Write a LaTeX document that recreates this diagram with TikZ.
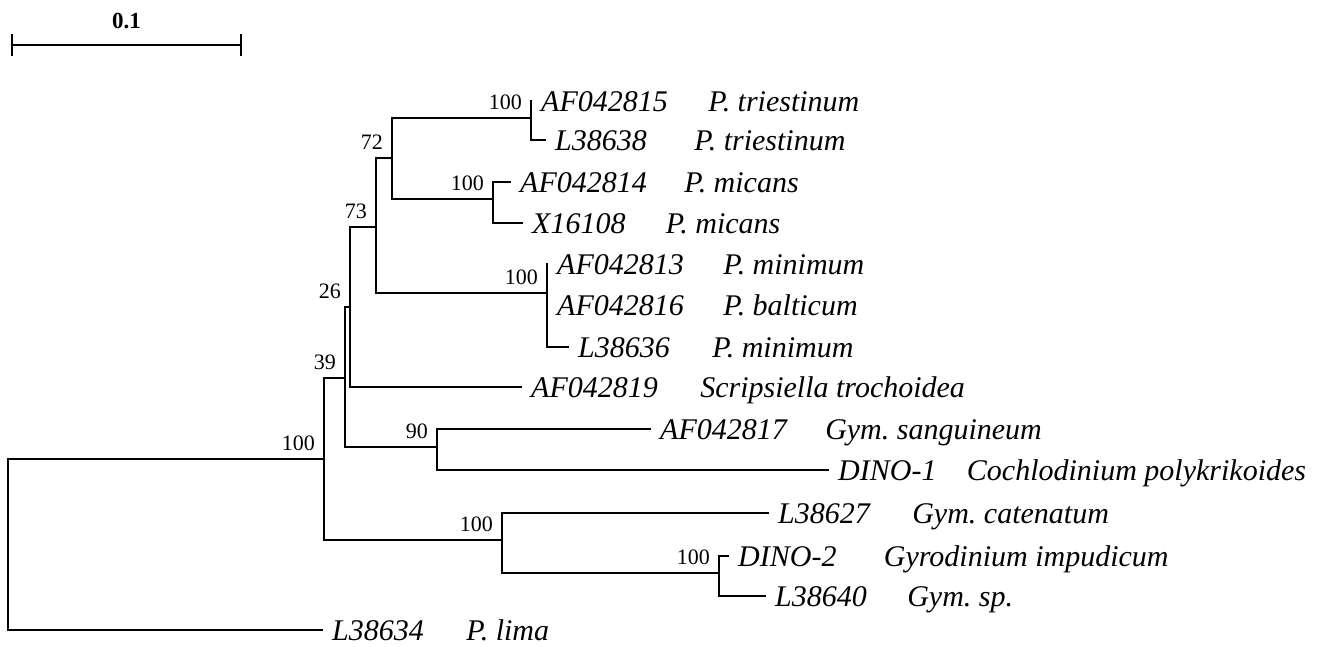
\documentclass[tikz,border=0pt]{standalone}
\usepackage{fontspec}
\setmainfont{Liberation Serif}
\usepackage{tikz}
\usetikzlibrary{positioning}

\begin{document}
\begin{tikzpicture}[
          x=1pt, y=-1pt,
          branch/.style={line width=1.8pt, line cap=rect},
          acc/.style={anchor=base west, inner sep=0pt, xshift=10pt, yshift=-10pt,
            font=\fontsize{30}{36}\selectfont\itshape},
          spname/.style={inner sep=0pt, font=\fontsize{30}{36}\selectfont\itshape\frenchspacing},
          boot/.style={anchor=south east, inner sep=0pt, xshift=-9pt, yshift=8pt,
            font=\fontsize{22}{26}\selectfont}
        ]
          \useasboundingbox (0,0) rectangle (1337,646);

          % scale bar
          \coordinate (sb1) at (12,45);
          \coordinate (sb2) at (241,45);
          \draw[branch] (sb1) -- node[above=15pt, inner sep=0pt, font=\fontsize{23}{27}\selectfont\bfseries] (sblab) {0.1} (sb2);
          \draw[branch] ([yshift=10pt]sb1) -- ([yshift=-10pt]sb1);
          \draw[branch] ([yshift=10pt]sb2) -- ([yshift=-10pt]sb2);

          % internal nodes
          \coordinate (root) at (8,545);
          \coordinate (nA) at (324,459);
          \coordinate (n39) at (345,378);
          \coordinate (n26) at (350,307);
          \coordinate (n73) at (376,227);
          \coordinate (n72) at (392,158);
          \coordinate (ntri) at (531,118);
          \coordinate (nmic) at (493,199);
          \coordinate (nmin) at (547,293);
          \coordinate (n90) at (437,447);
          \coordinate (nG) at (502,540);
          \coordinate (nH) at (719,573);

          % leaves
          \coordinate (t1) at (531,101);
          \coordinate (t2) at (545,140);
          \coordinate (t3) at (510,182);
          \coordinate (t4) at (522,223);
          \coordinate (t5) at (547,264);
          \coordinate (t6) at (547,305);
          \coordinate (t7) at (568,347);
          \coordinate (t8) at (521,387);
          \coordinate (t9) at (650,429);
          \coordinate (t10) at (828,470);
          \coordinate (t11) at (768,513);
          \coordinate (t12) at (728,556);
          \coordinate (t13) at (765,596);
          \coordinate (t14) at (322,630);

          % branches
          \draw[branch] (root) |- (nA);
          \draw[branch] (root) |- (t14);
          \draw[branch] (nA) |- (n39);
          \draw[branch] (nA) |- (nG);
          \draw[branch] (n39) |- (n26);
          \draw[branch] (n39) |- (n90);
          \draw[branch] (n26) |- (n73);
          \draw[branch] (n26) |- (t8);
          \draw[branch] (n73) |- (n72);
          \draw[branch] (n73) |- (nmin);
          \draw[branch] (n72) |- (ntri);
          \draw[branch] (n72) |- (nmic);
          \draw[branch] (ntri) |- (t1);
          \draw[branch] (ntri) |- (t2);
          \draw[branch] (nmic) |- (t3);
          \draw[branch] (nmic) |- (t4);
          \draw[branch] (nmin) |- (t5);
          \draw[branch] (nmin) |- (t6);
          \draw[branch] (nmin) |- (t7);
          \draw[branch] (n90) |- (t9);
          \draw[branch] (n90) |- (t10);
          \draw[branch] (nG) |- (t11);
          \draw[branch] (nG) |- (nH);
          \draw[branch] (nH) |- (t12);
          \draw[branch] (nH) |- (t13);

          % bootstrap values
          \node[boot] (b1) at (ntri) {100};
          \node[boot] (b2) at (nmic) {100};
          \node[boot] (b3) at (n72) {72};
          \node[boot] (b4) at (n73) {73};
          \node[boot] (b5) at (nmin) {100};
          \node[boot] (b6) at (n26) {26};
          \node[boot] (b7) at (n39) {39};
          \node[boot] (b8) at (n90) {90};
          \node[boot] (b9) at (nA) {100};
          \node[boot] (b10) at (nG) {100};
          \node[boot] (b11) at (nH) {100};

          % accession numbers and species
          \node[acc] (a1) at (t1) {AF042815};
          \node[spname, base right=40pt of a1] (s1) {P. triestinum};
          \node[acc] (a2) at (t2) {L38638};
          \node[spname, base right=47pt of a2] (s2) {P. triestinum};
          \node[acc] (a3) at (t3) {AF042814};
          \node[spname, base right=37pt of a3] (s3) {P. micans};
          \node[acc] (a4) at (t4) {X16108};
          \node[spname, base right=40pt of a4] (s4) {P. micans};
          \node[acc] (a5) at (t5) {AF042813};
          \node[spname, base right=39pt of a5] (s5) {P. minimum};
          \node[acc] (a6) at (t6) {AF042816};
          \node[spname, base right=39pt of a6] (s6) {P. balticum};
          \node[acc] (a7) at (t7) {L38636};
          \node[spname, base right=42pt of a7] (s7) {P. minimum};
          \node[acc] (a8) at (t8) {AF042819};
          \node[spname, base right=42pt of a8] (s8) {Scripsiella trochoidea};
          \node[acc] (a9) at (t9) {AF042817};
          \node[spname, base right=38pt of a9] (s9) {Gym. sanguineum};
          \node[acc] (a10) at (t10) {DINO-1};
          \node[spname, base right=30pt of a10] (s10) {Cochlodinium polykrikoides};
          \node[acc] (a11) at (t11) {L38627};
          \node[spname, base right=42pt of a11] (s11) {Gym. catenatum};
          \node[acc] (a12) at (t12) {DINO-2};
          \node[spname, base right=47pt of a12] (s12) {Gyrodinium impudicum};
          \node[acc] (a13) at (t13) {L38640};
          \node[spname, base right=40pt of a13] (s13) {Gym. sp.};
          \node[acc] (a14) at (t14) {L38634};
          \node[spname, base right=42pt of a14] (s14) {P. lima};
        \end{tikzpicture}
\end{document}
